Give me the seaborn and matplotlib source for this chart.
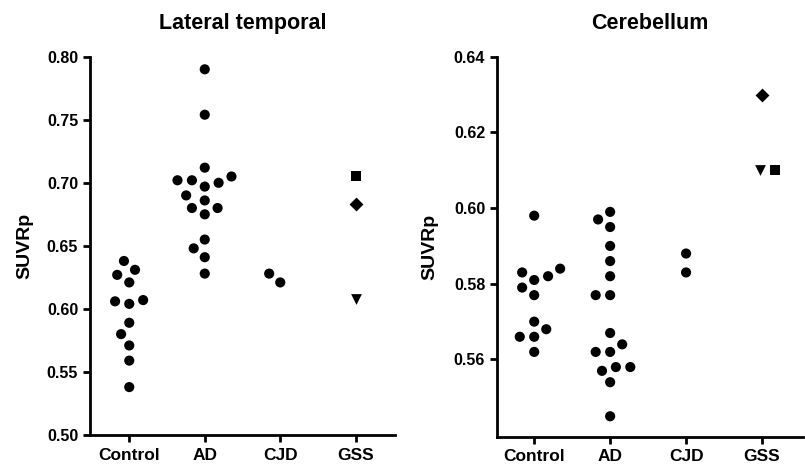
import numpy as np
import pandas as pd
import matplotlib
matplotlib.use("Agg")
import matplotlib.pyplot as plt
from matplotlib.ticker import FormatStrFormatter
import seaborn as sns

# ---------------- data ----------------
categories = ["Control", "AD", "CJD", "GSS"]

lt_control = [0.638, 0.627, 0.631, 0.621, 0.607, 0.606, 0.604, 0.589, 0.580, 0.571, 0.559, 0.538]
lt_ad = [0.790, 0.754, 0.712, 0.702, 0.702, 0.705, 0.700, 0.697, 0.690, 0.686, 0.680, 0.680,
         0.675, 0.655, 0.648, 0.641, 0.628]
lt_cjd = [0.621, 0.628]
lt_gss = [0.705, 0.683, 0.608]
lt_gss_markers = ["s", "D", "v"]

cb_control = [0.598, 0.583, 0.584, 0.582, 0.581, 0.579, 0.577, 0.570, 0.568, 0.566, 0.566, 0.562]
cb_ad = [0.599, 0.597, 0.595, 0.590, 0.586, 0.582, 0.577, 0.577, 0.567, 0.564, 0.562, 0.562,
         0.557, 0.558, 0.558, 0.554, 0.545]
cb_cjd = [0.588, 0.583]
cb_gss = [0.630, 0.610, 0.610]
cb_gss_markers = ["D", "v", "s"]

panels = [
    dict(title="Lateral temporal", control=lt_control, ad=lt_ad, cjd=lt_cjd,
         gss=lt_gss, gss_markers=lt_gss_markers, gss_offsets=[0.0, 0.0, 0.0],
         ylim=(0.50, 0.80), ystep=0.05, yticks_min=0.50,
         pos=[90 / 805, 32 / 467, 305 / 805, 378.3 / 467], xlim=(-0.52, 3.52),
         ylabel_x=-0.187),
    dict(title="Cerebellum", control=cb_control, ad=cb_ad, cjd=cb_cjd,
         gss=cb_gss, gss_markers=cb_gss_markers, gss_offsets=[0.0, -0.02, 0.17],
         ylim=(0.5396, 0.64), ystep=0.02, yticks_min=0.56,
         pos=[497 / 805, 30.3 / 467, 306 / 805, 380 / 467], xlim=(-0.49, 3.54),
         ylabel_x=-0.193),
]

# ---------------- style ----------------
sns.set_theme(style="ticks")
plt.rcParams["font.family"] = ["Liberation Sans", "DejaVu Sans"]
plt.rcParams["font.weight"] = "bold"
plt.rcParams["axes.labelweight"] = "bold"
plt.rcParams["axes.titleweight"] = "bold"
plt.rcParams["text.color"] = "black"
plt.rcParams["axes.labelcolor"] = "black"
plt.rcParams["xtick.color"] = "black"
plt.rcParams["ytick.color"] = "black"

fig = plt.figure(figsize=(8.05, 4.67), dpi=100)
fig.patch.set_facecolor("white")

for p in panels:
    ax = fig.add_axes(p["pos"])
    df = pd.DataFrame({
        "group": ["Control"] * len(p["control"]) + ["AD"] * len(p["ad"]) + ["CJD"] * len(p["cjd"]),
        "value": p["control"] + p["ad"] + p["cjd"],
    })
    # invisible edge widens the swarm spacing like the original layout
    sns.swarmplot(data=df, x="group", y="value", order=categories, color="black",
                  size=7.3, linewidth=2.6, edgecolor="none", ax=ax)
    gi = categories.index("GSS")
    for v, m, off in zip(p["gss"], p["gss_markers"], p["gss_offsets"]):
        sns.scatterplot(x=[gi + off], y=[v], marker=m, color="black",
                        s=60 if m != "D" else 50, linewidth=0, legend=False, ax=ax)
    ax.set_xlim(*p["xlim"])
    ax.set_ylim(*p["ylim"])
    yt = np.arange(p["yticks_min"], p["ylim"][1] + 1e-9, p["ystep"])
    ax.set_yticks(yt)
    ax.yaxis.set_major_formatter(FormatStrFormatter("%.2f"))
    ax.set_xticks(range(len(categories)))
    ax.set_xticklabels(categories)
    ax.set_xlabel("")
    ax.set_ylabel("SUVRp", fontsize=14, fontweight="bold", color="black")
    ax.yaxis.set_label_coords(p["ylabel_x"], 0.5)
    ax.set_title(p["title"], fontsize=15.5, fontweight="bold", pad=20, color="black")
    for s in ["top", "right"]:
        ax.spines[s].set_visible(False)
    for s in ["left", "bottom"]:
        ax.spines[s].set_linewidth(2)
        ax.spines[s].set_color("black")
    ax.tick_params(axis="both", which="major", length=5, width=2, color="black",
                   labelsize=11.5, labelcolor="black")
    ax.tick_params(axis="x", labelsize=12.5, pad=4)
    for lbl in ax.get_xticklabels() + ax.get_yticklabels():
        lbl.set_fontweight("bold")
    ax.set_facecolor("white")

fig.savefig("out.png", dpi=100, facecolor="white")
